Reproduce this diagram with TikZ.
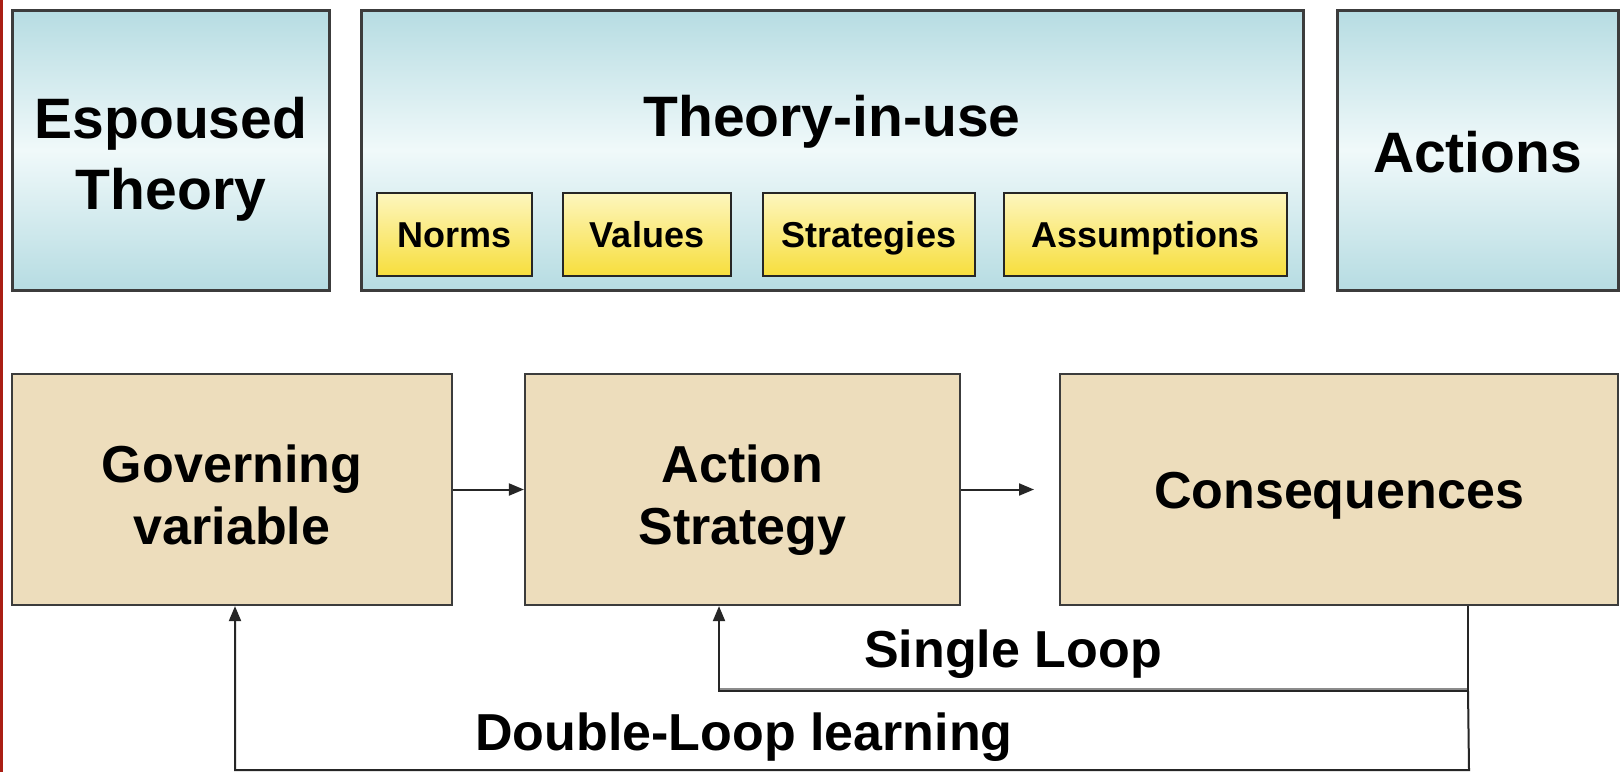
\documentclass[tikz,border=0pt]{standalone}
\usepackage{fontspec}
\setmainfont{Liberation Sans}
\usetikzlibrary{arrows.meta,shadows}
\definecolor{teal1}{RGB}{182,220,226}
\definecolor{teal2}{RGB}{240,249,250}
\definecolor{yel1}{RGB}{253,246,190}
\definecolor{yel2}{RGB}{247,222,60}
\definecolor{tan1}{RGB}{237,221,188}
\definecolor{bordg}{RGB}{60,60,60}
\definecolor{redbar}{RGB}{170,30,20}
\newcommand{\fBig}{\fontsize{57}{71}\selectfont\bfseries}
\newcommand{\fMid}{\fontsize{52}{62}\selectfont\bfseries}
\newcommand{\fSmall}{\fontsize{36}{40}\selectfont\bfseries}
\tikzset{
  bluebox/.style={draw=bordg, line width=3pt, inner sep=0pt, align=center,
    top color=teal1, bottom color=teal1, middle color=teal2,
    general shadow={shadow xshift=2pt, shadow yshift=-2pt, fill=black!45}},
  yelbox/.style={draw=black!85, line width=2.2pt, inner sep=0pt, align=center,
    top color=yel1, bottom color=yel2, font=\fSmall},
  tanbox/.style={draw=bordg, line width=2.2pt, inner sep=0pt, align=center,
    fill=tan1, font=\fMid},
  txt/.style={inner sep=0pt, align=center},
  arr/.style={draw=black!85, line width=2pt, -{Triangle[length=15pt,width=12pt]}},
  lbl/.style={inner sep=0pt, font=\fMid}
}
\begin{document}
\begin{tikzpicture}[x=1pt,y=-1pt]
\useasboundingbox (0,0) rectangle (1621,772);
\fill[white] (0,0) rectangle (1621,772);
\fill[redbar] (0,0) rectangle (2.5,772);
% top row
\node[bluebox, minimum width=317pt, minimum height=280pt] (esp) at (170.5,150) {};
\node[bluebox, minimum width=942pt, minimum height=280pt] (tiu) at (832,150) {};
\node[bluebox, minimum width=281pt, minimum height=280pt] (act) at (1477.5,150) {};
\node[txt, font=\fBig, anchor=base] (esptext) at (171,209) {Espoused\\Theory};
\node[txt, font=\fBig, anchor=base] (tiutitle) at (832,136) {Theory-in-use};
\node[txt, font=\fBig, anchor=base] (acttext) at (1477.5,172) {Actions};
\node[yelbox, minimum width=155pt, minimum height=83pt] (norms) at (454.5,234.5) {};
\node[yelbox, minimum width=168pt, minimum height=83pt] (values) at (647,234.5) {};
\node[yelbox, minimum width=212pt, minimum height=83pt] (strat) at (869,234.5) {};
\node[yelbox, minimum width=283pt, minimum height=83pt] (assum) at (1145.5,234.5) {};
\node[txt, font=\fSmall, anchor=base] at (norms.center |- 0,247) {Norms};
\node[txt, font=\fSmall, anchor=base] at (values.center |- 0,247) {Values};
\node[txt, font=\fSmall, anchor=base] at (strat.center |- 0,247) {Strategies};
\node[txt, font=\fSmall, anchor=base] at (assum.center |- 0,247) {Assumptions};
% bottom row
\node[tanbox, minimum width=440pt, minimum height=231pt] (gov) at (232,489.5) {};
\node[tanbox, minimum width=435pt, minimum height=231pt] (astr) at (742.5,489.5) {};
\node[tanbox, minimum width=558pt, minimum height=231pt] (cons) at (1339,489.5) {};
\node[txt, font=\fMid, anchor=base] at (gov.center |- 0,544) {Governing\\variable};
\node[txt, font=\fMid, anchor=base] at (astr.center |- 0,544) {Action\\Strategy};
\node[txt, font=\fMid, anchor=base] at (1339,508) {Consequences};
% connectors
\coordinate (c1) at (1034,489.5);
\coordinate (fbx) at (1468,691);
\coordinate (fby) at (1469,770);
\coordinate (slx) at (719,0);
\coordinate (dlx) at (235,0);
\draw[arr] (gov.east) -- (astr.west);
\draw[arr] (astr.east) -- (c1);
\draw[draw=black!45, line width=4pt] ([yshift=1.5pt]fbx) -- ([yshift=1.5pt]fbx -| slx);
\draw[arr] (cons.south -| fbx) -- (fbx) -| (astr.south -| slx);
\draw[arr] (fbx) -- (fby) -| (gov.south -| dlx);
\node[lbl, anchor=base] (single) at (1013,667) {Single Loop};
\node[lbl, anchor=base] (double) at (744,750) {Double-Loop learning};
\end{tikzpicture}
\end{document}
